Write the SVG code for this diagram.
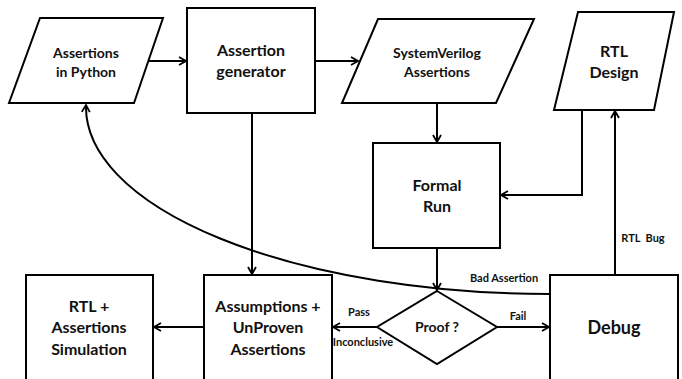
<svg xmlns="http://www.w3.org/2000/svg" width="682" height="379" viewBox="0 0 682 379">
<style>
.shape{fill:#fff;stroke:#000;stroke-width:2}
.t{font-family:Lato,"Liberation Sans",sans-serif;font-weight:700;fill:#111;text-anchor:middle;white-space:pre}
.l{font-size:16px}.m{font-size:14px}.s{font-size:11px}
.c{fill:none;stroke:#000;stroke-width:2}
</style>
<defs>
<marker id="a" viewBox="0 0 10 10" refX="9" refY="5" markerWidth="10" markerHeight="10" markerUnits="userSpaceOnUse" orient="auto">
<polyline points="2,1 9,5 2,9" fill="none" stroke="#000" stroke-width="1.8"/>
</marker>
</defs>
<rect x="0" y="0" width="682" height="379" fill="#fff"/>
<g id="connectors">
<line class="c" x1="148" y1="61" x2="186" y2="61" marker-end="url(#a)"/>
<line class="c" x1="315" y1="61" x2="358" y2="61" marker-end="url(#a)"/>
<line class="c" x1="437" y1="103" x2="437" y2="142" marker-end="url(#a)"/>
<polyline class="c" points="582,110 582,195 501,195" marker-end="url(#a)"/>
<line class="c" x1="437" y1="248" x2="437" y2="290" marker-end="url(#a)"/>
<line class="c" x1="497" y1="327" x2="549" y2="327" marker-end="url(#a)"/>
<line class="c" x1="377" y1="327" x2="333" y2="327" marker-end="url(#a)"/>
<line class="c" x1="204" y1="327" x2="154" y2="327" marker-end="url(#a)"/>
<line class="c" x1="252" y1="113" x2="252" y2="274" marker-end="url(#a)"/>
<line class="c" x1="615" y1="275" x2="615" y2="111" marker-end="url(#a)"/>
<path class="c" d="M550,294 A464,187 0 0 1 86,105" marker-end="url(#a)"/>
<text class="t s" x="504" y="282">Bad Assertion</text>
<text class="t s" x="643" y="242">RTL  Bug</text>
<text class="t s" x="518" y="320">Fail</text>
<text class="t s" x="359" y="316">Pass</text>
<text class="t s" x="363" y="346">Inconclusive</text>
</g>
<g id="python">
<polygon class="shape" points="40,18 163,18 134,103 9,103"/>
<text class="t m" x="86" y="58">Assertions</text>
<text class="t m" x="86" y="77">in Python</text>
</g>
<g id="generator">
<rect class="shape" x="187" y="8" width="128" height="105"/>
<text class="t l" x="251" y="56">Assertion</text>
<text class="t l" x="251" y="77">generator</text>
</g>
<g id="sva">
<polygon class="shape" points="378,19 534,19 496,103 342,103"/>
<text class="t m" x="437" y="58">SystemVerilog</text>
<text class="t m" x="437" y="77">Assertions</text>
</g>
<g id="rtl">
<polygon class="shape" points="578,12 674,12 654,110 554,110"/>
<text class="t l" x="614" y="57">RTL</text>
<text class="t l" x="614" y="78">Design</text>
</g>
<g id="formal">
<rect class="shape" x="373" y="143" width="127" height="105"/>
<text class="t l" x="437" y="191">Formal</text>
<text class="t l" x="437" y="212">Run</text>
</g>
<g id="proof">
<polygon class="shape" points="437,291 497,327 437,364 377,327"/>
<text class="t m" x="437" y="332">Proof ?</text>
</g>
<g id="debug">
<rect class="shape" x="550" y="275" width="128" height="110"/>
<text class="t" style="font-size:18px" x="614" y="334">Debug</text>
</g>
<g id="assumptions">
<rect class="shape" x="204" y="275" width="128" height="110"/>
<text class="t l" x="268" y="312">Assumptions +</text>
<text class="t l" x="268" y="333">UnProven</text>
<text class="t l" x="268" y="355">Assertions</text>
</g>
<g id="simulation">
<rect class="shape" x="26" y="275" width="127" height="110"/>
<text class="t l" x="89" y="312">RTL +</text>
<text class="t l" x="89" y="333">Assertions</text>
<text class="t l" x="89" y="355">Simulation</text>
</g>
</svg>
